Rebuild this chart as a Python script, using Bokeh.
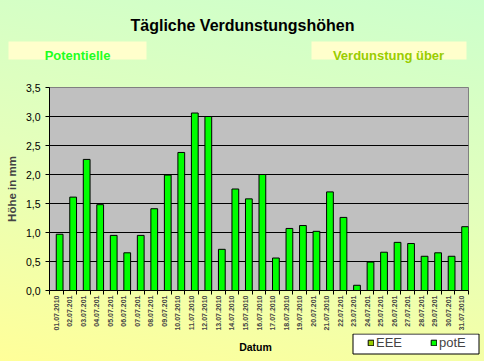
import math
from bokeh.plotting import figure
from bokeh.layouts import column
from bokeh.models import (ColumnDataSource, Legend, LegendItem, FixedTicker,
                          CustomJSTickFormatter, Range1d)
from bokeh.core.properties import value
from bokeh.transform import dodge
from bokeh.embed import file_html
from bokeh.resources import INLINE

# ---- data ----
dates = ["01.07.2010", "02.07.201", "03.07.201", "04.07.201", "05.07.201", "06.07.201",
         "07.07.201", "08.07.201", "09.07.201", "10.07.2010", "11.07.2010", "12.07.2010",
         "13.07.2010", "14.07.2010", "15.07.2010", "16.07.2010", "17.07.2010", "18.07.2010",
         "19.07.2010", "20.07.201", "21.07.2010", "22.07.201", "23.07.201", "24.07.201",
         "25.07.201", "26.07.201", "27.07.201", "28.07.201", "29.07.201", "30.07.201",
         "31.07.2010"]
pot_e = [0.97, 1.61, 2.26, 1.48, 0.95, 0.65, 0.95, 1.41, 1.99, 2.38, 3.06, 3.00,
         0.71, 1.75, 1.58, 2.00, 0.56, 1.07, 1.12, 1.02, 1.70, 1.26, 0.09, 0.49,
         0.66, 0.83, 0.81, 0.59, 0.65, 0.59, 1.10]
eee = [float("nan")] * len(dates)
y_ticks = [0.0, 0.5, 1.0, 1.5, 2.0, 2.5, 3.0, 3.5]
series_names = ["EEE", "potE"]
series_colors = ["#99cc00", "#00ff00"]
title_text = "Tägliche Verdunstungshöhen"
header_texts = ["Potentielle", "Verdunstung über"]
header_colors = ["#22ff22", "#99cc00"]

W = 484
FONT = "Liberation Sans"


def bare(fig):
    fig.xaxis.visible = False
    fig.yaxis.visible = False
    fig.xgrid.visible = False
    fig.ygrid.visible = False
    fig.outline_line_color = None
    fig.background_fill_alpha = 0
    fig.border_fill_alpha = 0
    fig.min_border = 0
    fig.frame_align = False


# ---- header: title and two boxes ----
HH = 79
hdr = figure(width=W, height=HH, output_backend="svg", toolbar_location=None,
             x_range=Range1d(0, W), y_range=Range1d(HH, 0))
bare(hdr)
hdr.text(x=[242], y=[25], text=[title_text], text_align="center", text_baseline="alphabetic",
         text_font=value(FONT), text_font_style="bold", text_font_size="16px", text_color="black")
hdr.quad(left=[8, 311], right=[146, 466], top=[41, 41], bottom=[59, 59],
         fill_color="#ffffcc", line_color=None)
hdr.text(x=[77, 388], y=[55, 55], text=header_texts, text_align="center",
         text_baseline="alphabetic", text_font=value(FONT), text_font_style="bold",
         text_font_size="13px", text_color=header_colors)

# ---- main chart ----
idx = list(range(1, len(dates) + 1))
src = ColumnDataSource(dict(x=idx, pot_e=pot_e, eee=eee))

p = figure(width=W, height=254, output_backend="svg", toolbar_location=None,
           x_range=Range1d(0.5, len(dates) + 0.5), y_range=Range1d(0, 3.5),
           min_border_left=49, min_border_right=16, min_border_top=8, min_border_bottom=0)
p.frame_align = False
p.border_fill_alpha = 0
p.background_fill_color = "#c0c0c0"
p.outline_line_color = "#808080"
p.outline_line_width = 1

p.vbar(x=dodge("x", -0.25), top="eee", width=0.5, source=src,
       fill_color=series_colors[0], line_color="black", line_width=1)
p.vbar(x=dodge("x", 0.25), top="pot_e", width=0.5, source=src,
       fill_color=series_colors[1], line_color="black", line_width=1)

p.xgrid.grid_line_color = None
p.ygrid.grid_line_color = "black"
p.ygrid.grid_line_width = 1
p.ygrid.ticker = FixedTicker(ticks=y_ticks)

p.yaxis.ticker = FixedTicker(ticks=y_ticks)
p.yaxis.formatter = CustomJSTickFormatter(code="return tick.toFixed(1).replace('.', ',');")
p.yaxis.axis_label = "Höhe in mm"
p.yaxis.axis_label_text_font = FONT
p.yaxis.axis_label_text_font_style = "bold"
p.yaxis.axis_label_text_font_size = "11.5px"
p.yaxis.axis_label_standoff = 5
p.yaxis.major_label_text_font = FONT
p.yaxis.major_label_text_font_size = "10.5px"
p.yaxis.major_label_text_color = "black"
p.yaxis.major_label_standoff = 5
p.yaxis.major_tick_out = 4
p.yaxis.major_tick_in = 0
p.yaxis.minor_tick_line_color = None
p.yaxis.axis_line_color = "black"
p.yaxis.major_tick_line_color = "black"

p.xaxis.ticker = FixedTicker(ticks=idx, minor_ticks=[i + 0.5 for i in range(0, len(dates) + 1)])
p.xaxis.major_label_overrides = {i: d for i, d in zip(idx, dates)}
p.xaxis.major_label_orientation = math.pi / 2
p.xaxis.major_label_text_font = FONT
p.xaxis.major_label_text_font_size = "7px"
p.xaxis.major_label_text_font_style = "bold"
p.xaxis.major_label_standoff = 1
p.xaxis.major_tick_line_color = None
p.xaxis.major_tick_out = 4
p.xaxis.major_tick_in = 0
p.xaxis.minor_tick_out = 4
p.xaxis.minor_tick_in = 0
p.xaxis.minor_tick_line_color = "black"
p.xaxis.axis_line_color = "black"

# ---- footer: axis title "Datum" and legend ----
FH = 28
ftr = figure(width=W, height=FH, output_backend="svg", toolbar_location=None,
             x_range=Range1d(0, W), y_range=Range1d(FH, 0))
bare(ftr)
ftr.text(x=[255], y=[13], text=["Datum"], text_align="center", text_baseline="alphabetic",
         text_font=value(FONT), text_font_style="bold", text_font_size="10.5px", text_color="black")
ftr.quad(left=[352.5], right=[478.5], top=[0.5], bottom=[20.5], fill_color="white", line_color="black")
dummy = ColumnDataSource(dict(x=[float("nan")], top=[float("nan")]))
leg_r = [ftr.vbar(x="x", top="top", width=1, source=dummy, fill_color=c, line_color="black")
         for c in series_colors]
legend = Legend(items=[LegendItem(label=n, renderers=[r]) for n, r in zip(series_names, leg_r)],
                location=(367, 11), orientation="horizontal",
                background_fill_alpha=0, border_line_color=None,
                label_text_font=FONT, label_text_font_size="13px",
                glyph_width=7, glyph_height=7, label_standoff=2, spacing=28,
                label_height=13, padding=0, margin=0)
ftr.add_layout(legend, "center")

layout = column(hdr, p, ftr, spacing=0)
layout.styles = {"background": "linear-gradient(190deg, #ccffcc 0%, #e4ffbb 50%, #ffff99 100%)"}

open("out.html", "w").write(file_html(layout, INLINE))
